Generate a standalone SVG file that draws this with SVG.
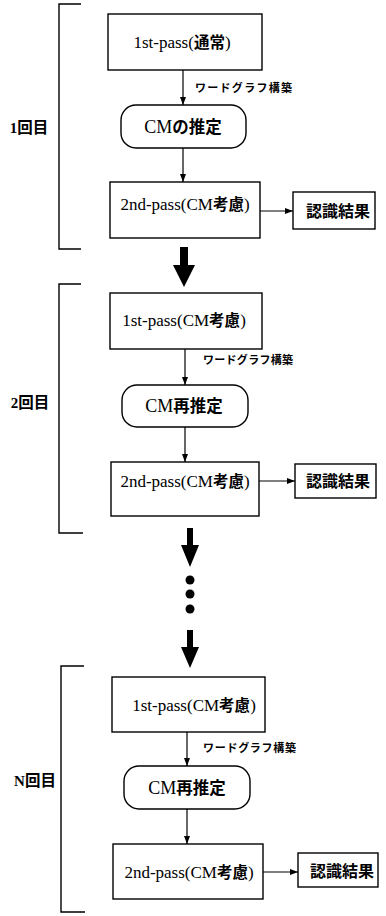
<svg xmlns="http://www.w3.org/2000/svg" width="386" height="916" viewBox="0 0 386 916">
<style>
.box{fill:#fff;stroke:#000;stroke-width:1.4}
.br{fill:none;stroke:#000;stroke-width:1.4}
.ln{fill:none;stroke:#000;stroke-width:1.2}
.t{font-family:"Liberation Serif","Noto Sans CJK JP",serif;font-size:17px;fill:#000;text-anchor:middle}
.t2{font-family:"Liberation Serif","Noto Sans CJK JP",serif;font-size:18px;fill:#000;text-anchor:middle}
.j{font-family:"Noto Sans CJK JP",sans-serif;font-weight:bold;font-size:15.5px}
.j2{font-family:"Noto Sans CJK JP",sans-serif;font-weight:bold;font-size:16.5px}
.r{font-family:"Noto Sans CJK JP",sans-serif;font-weight:bold;font-size:16px;fill:#000;text-anchor:middle}
.lb{font-family:"Noto Sans CJK JP",sans-serif;font-weight:bold;font-size:11px;fill:#000}
.it{font-family:"Liberation Serif","Noto Sans CJK JP",serif;font-size:15px;font-weight:bold;fill:#000;text-anchor:middle}
.big{fill:#000}
</style>
<defs>
<marker id="ah" markerWidth="8" markerHeight="6" refX="8" refY="3" orient="auto" markerUnits="userSpaceOnUse">
<path d="M0,0 L8,3 L0,6 z" fill="#000"/>
</marker>
</defs>

<g id="brackets">
<path class="br" d="M81,4 H59 V249 H81"/>
<path class="br" d="M81,284 H59 V533 H83"/>
<path class="br" d="M84,666 H61 V912 H85"/>
</g>

<g id="iter-labels">
<text class="it" x="29" y="133">1<tspan class="j">回目</tspan></text>
<text class="it" x="30" y="408">2<tspan class="j">回目</tspan></text>
<text class="it" x="35" y="786">N<tspan class="j">回目</tspan></text>
</g>

<g id="connectors">
<line class="ln" x1="183" y1="70" x2="183" y2="105" marker-end="url(#ah)"/>
<line class="ln" x1="183" y1="148" x2="183" y2="182" marker-end="url(#ah)"/>
<line class="ln" x1="260" y1="211" x2="293" y2="211" marker-end="url(#ah)"/>
<line class="ln" x1="185" y1="349" x2="185" y2="385" marker-end="url(#ah)"/>
<line class="ln" x1="185" y1="427" x2="185" y2="462" marker-end="url(#ah)"/>
<line class="ln" x1="259" y1="481" x2="295" y2="481" marker-end="url(#ah)"/>
<line class="ln" x1="187" y1="732" x2="187" y2="766" marker-end="url(#ah)"/>
<line class="ln" x1="187" y1="809" x2="187" y2="844" marker-end="url(#ah)"/>
<line class="ln" x1="263" y1="872" x2="298" y2="872" marker-end="url(#ah)"/>
<text class="lb" x="195" y="92" textLength="97">ワードグラフ構築</text>
<text class="lb" x="203" y="364" textLength="90">ワードグラフ構築</text>
<text class="lb" x="203" y="752" textLength="93">ワードグラフ構築</text>
<polygon class="big" points="180,247 188,247 188,265 195,265 184,287 173,265 180,265"/>
<polygon class="big" points="187,528 193,528 193,545 199,545 190,567 181,545 187,545"/>
<circle class="big" cx="190" cy="580" r="4.5"/>
<circle class="big" cx="190" cy="594" r="4.5"/>
<circle class="big" cx="190" cy="609" r="4.5"/>
<polygon class="big" points="187,630 193,630 193,647 199,647 190,668 181,647 187,647"/>
</g>

<g id="n1a"><rect class="box" x="108" y="14" width="154" height="56"/>
<text class="t" x="182" y="48">1st-pass(<tspan class="j">通常</tspan>)</text></g>
<g id="n1b"><rect class="box" x="121" y="105" width="125" height="43" rx="15"/>
<text class="t2" x="183" y="133">CM<tspan class="j2">の推定</tspan></text></g>
<g id="n1c"><rect class="box" x="110" y="182" width="150" height="56"/>
<text class="t" x="185" y="210">2nd-pass(CM<tspan class="j">考慮</tspan>)</text></g>
<g id="n1d"><rect class="box" x="293" y="192" width="82" height="37"/>
<text class="r" x="338" y="217">認識結果</text></g>

<g id="n2a"><rect class="box" x="110" y="293" width="152" height="56"/>
<text class="t" x="184" y="326">1st-pass(CM<tspan class="j">考慮</tspan>)</text></g>
<g id="n2b"><rect class="box" x="122" y="385" width="126" height="42" rx="15"/>
<text class="t2" x="184" y="412">CM<tspan class="j2">再推定</tspan></text></g>
<g id="n2c"><rect class="box" x="111" y="462" width="148" height="54"/>
<text class="t" x="185" y="487">2nd-pass(CM<tspan class="j">考慮</tspan>)</text></g>
<g id="n2d"><rect class="box" x="295" y="464" width="81" height="34"/>
<text class="r" x="338" y="487">認識結果</text></g>

<g id="n3a"><rect class="box" x="112" y="677" width="153" height="55"/>
<text class="t" x="194" y="711">1st-pass(CM<tspan class="j">考慮</tspan>)</text></g>
<g id="n3b"><rect class="box" x="124" y="766" width="126" height="43" rx="15"/>
<text class="t2" x="187" y="794">CM<tspan class="j2">再推定</tspan></text></g>
<g id="n3c"><rect class="box" x="113" y="844" width="150" height="55"/>
<text class="t" x="189" y="878">2nd-pass(CM<tspan class="j">考慮</tspan>)</text></g>
<g id="n3d"><rect class="box" x="298" y="853" width="80" height="34"/>
<text class="r" x="342" y="877">認識結果</text></g>
</svg>
